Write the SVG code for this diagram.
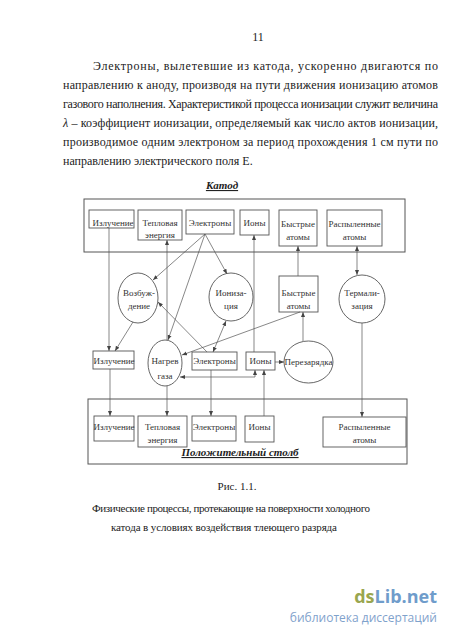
<svg xmlns="http://www.w3.org/2000/svg" width="450" height="637" viewBox="0 0 450 637">
<style>
.p{font-family:"Liberation Serif",serif;font-size:12px;fill:#222}
.c{font-family:"Liberation Serif",serif;font-size:11px;fill:#222}
.t{font-family:"Liberation Serif",serif;font-size:9px;fill:#333;text-anchor:middle}
.h{font-family:"Liberation Serif",serif;font-size:11px;font-weight:bold;font-style:italic;fill:#222;text-anchor:middle;text-decoration:underline}
.b{fill:#fff;stroke:#555;stroke-width:0.9}
.f{fill:none;stroke:#555;stroke-width:1}
.l{fill:none;stroke:#555;stroke-width:0.7}
.e{marker-end:url(#ah)}
.s{marker-start:url(#ah)}
</style>
<defs>
<marker id="ah" viewBox="0 0 10 10" refX="10" refY="5" markerWidth="5" markerHeight="5" markerUnits="userSpaceOnUse" orient="auto-start-reverse">
<path d="M0,1 L10,5 L0,9 z" fill="#444"/>
</marker>
</defs>
<rect width="450" height="637" fill="#fff"/>

<g id="page-text">
<text class="p" x="258" y="41" text-anchor="middle">11</text>
<text class="p" x="93" y="70" textLength="345" lengthAdjust="spacing">Электроны, вылетевшие из катода, ускоренно двигаются по</text>
<text class="p" x="63" y="89" textLength="375" lengthAdjust="spacing">направлению к аноду, производя на пути движения ионизацию атомов</text>
<text class="p" x="63" y="108" textLength="375" lengthAdjust="spacing">газового наполнения. Характеристикой процесса ионизации служит величина</text>
<text class="p" x="63" y="127" textLength="375" lengthAdjust="spacing"><tspan font-style="italic">λ</tspan> – коэффициент ионизации, определяемый как число актов ионизации,</text>
<text class="p" x="63" y="146" textLength="375" lengthAdjust="spacing">производимое одним электроном за период прохождения   1 см  пути по</text>
<text class="p" x="63" y="165">направлению электрического поля  Е.</text>
</g>

<g id="cathode">
<text class="h" x="222" y="189">Катод</text>
<rect class="f" x="84" y="199" width="321" height="53"/>
</g>
<g id="top-izl"><rect class="b" x="89" y="210" width="45" height="18"/><text class="t" x="113" y="226">Излучение</text></g>
<g id="top-tepl"><rect class="b" x="138" y="210" width="44" height="30"/><text class="t" x="160" y="226">Тепловая</text><text class="t" x="160" y="238">энергия</text></g>
<g id="top-el"><rect class="b" x="186" y="210" width="48" height="24"/><text class="t" x="210" y="226">Электроны</text></g>
<g id="top-ion"><rect class="b" x="240" y="210" width="29" height="25"/><text class="t" x="254.5" y="226">Ионы</text></g>
<g id="top-fast"><rect class="b" x="279" y="210" width="38" height="36"/><text class="t" x="298" y="227">Быстрые</text><text class="t" x="298" y="240">атомы</text></g>
<g id="top-sput"><rect class="b" x="327" y="210" width="55" height="36"/><text class="t" x="354.5" y="227">Распыленные</text><text class="t" x="354.5" y="240">атомы</text></g>

<g id="excit"><ellipse class="b" cx="138" cy="298" rx="20" ry="25"/><text class="t" x="139" y="296">Возбуж-</text><text class="t" x="139" y="309">дение</text></g>
<g id="ioniz"><ellipse class="b" cx="231" cy="297" rx="22" ry="24"/><text class="t" x="231" y="296">Иониза-</text><text class="t" x="231" y="309">ция</text></g>
<g id="mid-fast"><rect class="b" x="279" y="276" width="39" height="36"/><text class="t" x="298.5" y="296">Быстрые</text><text class="t" x="298.5" y="309">атомы</text></g>
<g id="therm"><ellipse class="b" cx="362" cy="299" rx="23" ry="24"/><text class="t" x="362" y="296">Термали-</text><text class="t" x="362" y="309">зация</text></g>

<g id="mid-izl"><rect class="b" x="93" y="351" width="41" height="18"/><text class="t" x="114" y="364">Излучение</text></g>
<g id="heat"><ellipse class="b" cx="165" cy="363" rx="17" ry="23"/><text class="t" x="165" y="364">Нагрев</text><text class="t" x="165" y="379">газа</text></g>
<g id="mid-el"><rect class="b" x="192" y="352" width="45" height="18"/><text class="t" x="214.5" y="364">Электроны</text></g>
<g id="mid-ion"><rect class="b" x="246" y="352" width="29" height="18"/><text class="t" x="260.5" y="364">Ионы</text></g>
<g id="recharge"><ellipse class="b" cx="308.5" cy="362" rx="24.5" ry="21"/><text class="t" x="308.5" y="365">Перезарядка</text></g>

<g id="column">
<rect class="f" x="88" y="399" width="319" height="65"/>
<text class="h" x="240" y="456">Положительный столб</text>
</g>
<g id="bot-izl"><rect class="b" x="94" y="416" width="40" height="25"/><text class="t" x="114" y="430">Излучение</text></g>
<g id="bot-tepl"><rect class="b" x="138" y="416" width="49" height="31"/><text class="t" x="162.5" y="430">Тепловая</text><text class="t" x="162.5" y="443">энергия</text></g>
<g id="bot-el"><rect class="b" x="192" y="416" width="44" height="25"/><text class="t" x="214" y="430">Электроны</text></g>
<g id="bot-ion"><rect class="b" x="245" y="416" width="29" height="26"/><text class="t" x="259.5" y="430">Ионы</text></g>
<g id="bot-sput"><rect class="b" x="323" y="417" width="83" height="30"/><text class="t" x="364.5" y="430">Распыленные</text><text class="t" x="364.5" y="443">атомы</text></g>

<g id="connectors">
<path class="l e" d="M109,228 V351"/>
<path class="l e" d="M110,369 V416"/>
<path class="l e" d="M167,340 V240"/>
<path class="l e" d="M205,234 L168,340"/>
<path class="l e" d="M205,234 L153,280"/>
<path class="l e" d="M205,234 L227,274"/>
<path class="l e" d="M167,386 V416"/>
<path class="l e" d="M133,322 L115,351"/>
<path class="l e" d="M207,352 L158,302"/>
<path class="l s e" d="M226,321 L213,352"/>
<path class="l e" d="M300,312 L182,355"/>
<path class="l e" d="M303,341 V312"/>
<path class="l e" d="M298,276 V246"/>
<path class="l s e" d="M357,246 V275"/>
<path class="l e" d="M362,323 V417"/>
<path class="l e" d="M254,352 V235"/>
<path class="l s e" d="M180,377 H255 V370"/>
<path class="l e" d="M275,362 H284"/>
<path class="l e" d="M211,370 V416"/>
<path class="l e" d="M264,416 V370"/>
</g>

<g id="caption">
<text class="c" x="237" y="490" text-anchor="middle">Рис. 1.1.</text>
<text class="c" x="92" y="512" textLength="278" lengthAdjust="spacing">Физические процессы, протекающие на поверхности холодного</text>
<text class="c" x="111" y="531" textLength="226" lengthAdjust="spacing">катода в условиях воздействия тлеющего разряда</text>
</g>

<g id="watermark">
<text x="437" y="603" text-anchor="end" font-family="'Open Sans','DejaVu Sans',sans-serif" font-size="18" font-weight="bold"><tspan fill="#9aa64f">ds</tspan><tspan fill="#6f9ccb">Lib.net</tspan></text>
<text x="437" y="622" text-anchor="end" font-family="'Open Sans','DejaVu Sans',sans-serif" font-size="12" fill="#7fa2cc">библиотека диссертаций</text>
</g>
</svg>
